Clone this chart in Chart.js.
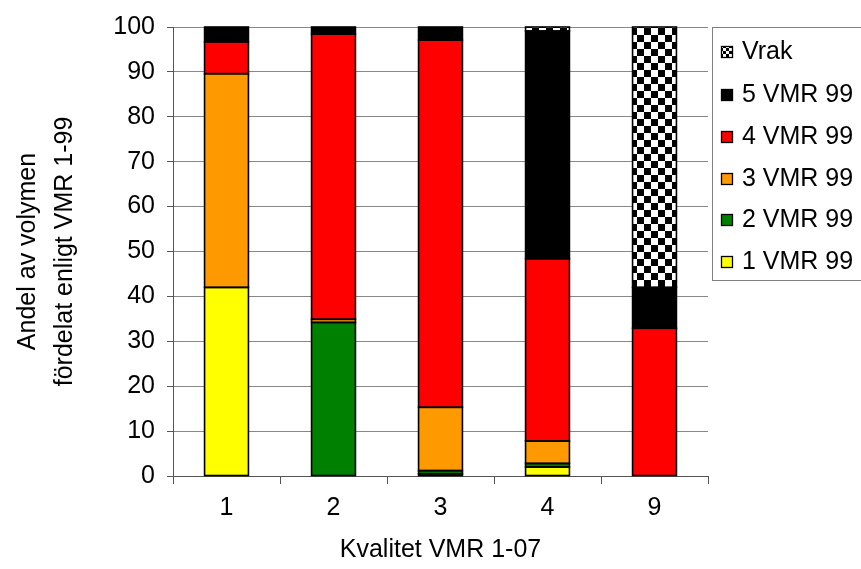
<!DOCTYPE html>
<html>
<head>
<meta charset="utf-8">
<script src="https://cdn.jsdelivr.net/npm/chart.js@4/dist/chart.umd.min.js"></script>
<style>
html,body{margin:0;padding:0;background:#fff;}
#wrap{width:861px;height:569px;position:relative;}
</style>
</head>
<body>
<div id="wrap"><canvas id="c" width="861" height="569"></canvas></div>
<script>
const categories = ['1', '2', '3', '4', '9'];
const seriesNames = ['1 VMR 99', '2 VMR 99', '3 VMR 99', '4 VMR 99', '5 VMR 99', 'Vrak'];
const v1 = [42.0, 0, 0.5, 2.0, 0];
const v2 = [0, 34.2, 0.7, 0.8, 0];
const v3 = [47.6, 0.7, 14.1, 5.0, 0];
const v4 = [7.1, 63.5, 81.8, 40.6, 32.9];
const v5 = [3.3, 1.6, 2.9, 50.7, 9.1];
const vVrak = [0, 0, 0, 0.9, 58.0];
const yTicks = [0, 10, 20, 30, 40, 50, 60, 70, 80, 90, 100];

const FONT = "'Liberation Sans', Arial, sans-serif";
const FS = 25;

function checker(size) {
  const cv = document.createElement('canvas');
  cv.width = size * 2; cv.height = size * 2;
  const g = cv.getContext('2d');
  g.fillStyle = '#fff'; g.fillRect(0, 0, size * 2, size * 2);
  g.fillStyle = '#000';
  g.fillRect(0, 0, size, size);
  g.fillRect(size, size, size, size);
  return g.createPattern(cv, 'repeat');
}
const ctx = document.getElementById('c').getContext('2d');
const checkerPat = checker(7);
const checkerSmall = checker(3);

const colors = ['#FFFF00', '#008000', '#FF9900', '#FF0000', '#000000', checkerPat];
const values = [v1, v2, v3, v4, v5, vVrak];

const datasets = values.map((d, i) => ({
  label: seriesNames[i],
  data: d,
  backgroundColor: colors[i],
  borderWidth: 0,
  barPercentage: 0.41,
  categoryPercentage: 1.0
}));

const outlinePlugin = {
  id: 'outline',
  afterDatasetsDraw(chart) {
    const c = chart.ctx;
    c.save();
    c.strokeStyle = '#000';
    c.lineWidth = 1.6;
    chart.data.datasets.forEach((ds, i) => {
      chart.getDatasetMeta(i).data.forEach(el => {
        const p = el.getProps(['x', 'y', 'base', 'width'], true);
        const h = Math.abs(p.base - p.y);
        if (h < 0.01) return;
        c.strokeRect(p.x - p.width / 2, Math.min(p.y, p.base), p.width, h);
      });
    });
    c.restore();
  }
};

const legendPlugin = {
  id: 'customLegend',
  afterDraw(chart) {
    const c = chart.ctx;
    c.save();
    c.strokeStyle = '#808080';
    c.lineWidth = 1;
    c.strokeRect(712.5, 27.5, 160, 253);
    c.font = FS + 'px ' + FONT;
    c.textBaseline = 'middle';
    const order = [5, 4, 3, 2, 1, 0];
    const rows = [51, 94, 136, 178, 219, 261];
    order.forEach((idx, k) => {
      const y = rows[k];
      c.fillStyle = idx === 5 ? checkerSmall : colors[idx];
      c.fillRect(721, y - 5, 12, 12);
      c.strokeStyle = '#000';
      c.lineWidth = 1.3;
      c.strokeRect(721.5, y - 4.5, 11, 11);
      c.fillStyle = '#000';
      c.fillText(seriesNames[idx], 742, y + 1);
    });
    c.restore();
  }
};

new Chart(ctx, {
  type: 'bar',
  data: { labels: categories, datasets },
  options: {
    responsive: false,
    animation: false,
    devicePixelRatio: 1,
    layout: { padding: { top: 26, right: 153, left: 9, bottom: 0 } },
    plugins: { legend: { display: false }, tooltip: { enabled: false } },
    scales: {
      x: {
        stacked: true,
        afterFit(s) { s.height = 93; },
        grid: { offset: true, drawOnChartArea: false, drawTicks: true, tickLength: 8, color: '#555' },
        border: { color: '#555', width: 1 },
        ticks: { color: '#000', font: { family: FONT, size: FS }, padding: 9 },
        title: { display: true, text: 'Kvalitet VMR 1-07', color: '#000', font: { family: FONT, size: FS }, padding: { top: 9 } }
      },
      y: {
        stacked: true,
        min: 0, max: 100,
        afterFit(s) { s.width = 164; },
        afterBuildTicks(s) { s.ticks = yTicks.map(v => ({ value: v })); },
        grid: { color: '#888', tickLength: 6, tickColor: '#555' },
        border: { color: '#555', width: 1 },
        ticks: { color: '#000', font: { family: FONT, size: FS }, padding: 12 },
        title: { display: true, text: ['Andel av volymen', 'fördelat enligt VMR 1-99'], color: '#000', font: { family: FONT, size: FS, lineHeight: 1.5 }, padding: { bottom: 0, top: 0 } }
      }
    }
  },
  plugins: [outlinePlugin, legendPlugin]
});
</script>
</body>
</html>
